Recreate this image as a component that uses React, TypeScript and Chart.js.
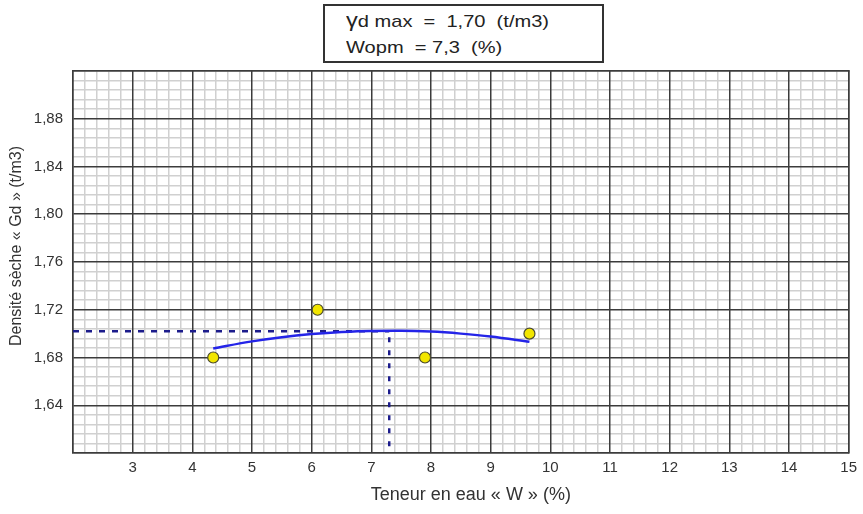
import React, { useEffect, useRef } from 'react';
import { Chart, registerables } from 'chart.js';

Chart.register(...registerables);

// Measured points (water content %, dry density t/m3)
const measuredW = [4.35, 6.1, 7.9, 9.65];
const measuredGd = [1.68, 1.72, 1.68, 1.70];

// Fitted Proctor curve
const curveW = [4.35, 5.0, 5.5, 6.0, 6.5, 7.0, 7.5, 8.0, 8.5, 9.0, 9.65];
const curveGd = [1.6876, 1.6935, 1.697, 1.6996, 1.7014, 1.7023, 1.7024, 1.7017, 1.7, 1.6976, 1.6931];

// Optimum
const wOpm = 7.3;
const gdMax = 1.702;
const optimumLineStartGd = 1.697;

// Axes
const xMin = 2;
const xMax = 15;
const yMin = 1.6;
const yMax = 1.92;
const xMajorStep = 1;
const xMinorStep = 0.2;
const yMajorStep = 0.04;
const yMinorStep = 0.008;

// Texts
const boxLine1 = 'd max  =  1,70  (t/m3)';
const boxLine2 = 'Wopm  = 7,3  (%)';
const xTitle = 'Teneur en eau « W » (%)';
const yTitle = 'Densité sèche « Gd » (t/m3)';

const FONT = '"Liberation Sans", Arial, sans-serif';

const isMultiple = (v: number, step: number) => Math.abs(v / step - Math.round(v / step)) < 1e-6;

const axisTitles = {
  id: 'axisTitles',
  afterDraw(chart: any) {
    const { ctx, chartArea: a } = chart;
    ctx.save();
    ctx.fillStyle = '#333';
    ctx.textAlign = 'center';
    ctx.textBaseline = 'middle';
    ctx.font = `18px ${FONT}`;
    ctx.fillText(xTitle, (a.left + a.right) / 2 + 10, a.bottom + 42);
    ctx.translate(a.left - 56, (a.top + a.bottom) / 2 - 16);
    ctx.rotate(-Math.PI / 2);
    ctx.font = `16px ${FONT}`;
    ctx.fillText(yTitle, 0, 0);
    ctx.restore();
  },
};

export default function App() {
  const canvasRef = useRef<HTMLCanvasElement | null>(null);

  useEffect(() => {
    document.body.style.margin = '0';
    if (!canvasRef.current) return;
    const chart = new Chart(canvasRef.current, {
      type: 'scatter',
      data: {
        datasets: [
          {
            label: 'Mesures',
            data: measuredW.map((w, i) => ({ x: w, y: measuredGd[i] })),
            backgroundColor: '#f2e600',
            borderColor: '#4a4a30',
            borderWidth: 1.2,
            pointRadius: 5.5,
            pointStyle: 'circle',
            showLine: false,
            xAxisID: 'x',
            yAxisID: 'y',
          },
          {
            label: 'Courbe',
            data: curveW.map((w, i) => ({ x: w, y: curveGd[i] })),
            borderColor: '#2424e8',
            borderWidth: 2.5,
            pointRadius: 0,
            showLine: true,
            cubicInterpolationMode: 'monotone',
            xAxisID: 'x',
            yAxisID: 'y',
          },
          {
            label: 'Gd max',
            data: [
              { x: xMin, y: gdMax },
              { x: wOpm, y: gdMax },
            ],
            borderColor: '#1c1c8c',
            borderWidth: 2.5,
            borderDash: [6, 7],
            pointRadius: 0,
            showLine: true,
            xAxisID: 'x',
            yAxisID: 'y',
          },
          {
            label: 'Wopm',
            data: [
              { x: wOpm, y: optimumLineStartGd },
              { x: wOpm, y: yMin },
            ],
            borderColor: '#1c1c8c',
            borderWidth: 2.5,
            borderDash: [5, 8],
            pointRadius: 0,
            showLine: true,
            xAxisID: 'x',
            yAxisID: 'y',
          },
        ],
      },
      options: {
        animation: false,
        responsive: true,
        maintainAspectRatio: false,
        layout: { padding: { top: 71, right: 14, left: 0, bottom: 0 } },
        plugins: {
          legend: { display: false },
          tooltip: { enabled: false },
          title: { display: false },
        },
        scales: {
          x: {
            type: 'linear',
            position: 'bottom',
            min: xMin,
            max: xMax,
            afterFit: (s: any) => {
              s.height = 61;
            },
            ticks: {
              stepSize: xMajorStep,
              autoSkip: false,
              maxRotation: 0,
              padding: 6,
              color: '#333',
              font: { family: FONT, size: 15 },
              callback: (v: any) => (v > xMin ? String(v) : ''),
            },
            grid: { color: '#3c3c3c', lineWidth: 1.5, drawTicks: false },
            border: { display: true, color: '#3c3c3c', width: 1.5 },
          },
          y: {
            type: 'linear',
            position: 'left',
            min: yMin,
            max: yMax,
            afterFit: (s: any) => {
              s.width = 73;
            },
            ticks: {
              stepSize: yMajorStep,
              autoSkip: false,
              padding: 10,
              color: '#333',
              font: { family: FONT, size: 15 },
              callback: (v: any) =>
                v > yMin + 1e-6 && v < yMax - 1e-6 ? Number(v).toFixed(2).replace('.', ',') : '',
            },
            grid: { color: '#3c3c3c', lineWidth: 1.5, drawTicks: false },
            border: { display: true, color: '#3c3c3c', width: 1.5 },
          },
          xMinor: {
            type: 'linear',
            position: 'top',
            min: xMin,
            max: xMax,
            afterFit: (s: any) => {
              s.height = 0;
            },
            ticks: { display: false, stepSize: xMinorStep, autoSkip: false },
            grid: {
              drawTicks: false,
              z: -2,
              lineWidth: 1.5,
              color: (c: any) => (c.tick && isMultiple(c.tick.value, xMajorStep) ? 'rgba(0,0,0,0)' : '#d0d0d0'),
            },
            border: { display: true, color: '#3c3c3c', width: 1.5 },
          },
          yMinor: {
            type: 'linear',
            position: 'right',
            min: yMin,
            max: yMax,
            afterFit: (s: any) => {
              s.width = 0;
            },
            ticks: { display: false, stepSize: yMinorStep, autoSkip: false },
            grid: {
              drawTicks: false,
              z: -2,
              lineWidth: 1.5,
              color: (c: any) => (c.tick && isMultiple(c.tick.value, yMajorStep) ? 'rgba(0,0,0,0)' : '#d0d0d0'),
            },
            border: { display: true, color: '#3c3c3c', width: 1.5 },
          },
        },
      } as any,
      plugins: [axisTitles],
    });
    return () => chart.destroy();
  }, []);

  return (
    <div style={{ position: 'relative', width: 863, height: 514, overflow: 'hidden' }}>
      <canvas ref={canvasRef} style={{ display: 'block' }} />
      <div
        style={{
          position: 'absolute',
          left: 323,
          top: 4,
          width: 277,
          height: 55,
          border: '2px solid #333',
          background: '#fff',
          fontFamily: FONT,
          fontSize: 17,
          color: '#222',
          whiteSpace: 'pre',
        }}
      >
        <div
          style={{
            position: 'absolute',
            left: 21,
            top: 1,
            lineHeight: '27px',
            transform: 'scaleX(1.18)',
            transformOrigin: 'left center',
          }}
        >
          <span style={{ fontSize: 20 }}>γ</span>
          {boxLine1}
        </div>
        <div
          style={{
            position: 'absolute',
            left: 21,
            top: 28,
            lineHeight: '27px',
            transform: 'scaleX(1.18)',
            transformOrigin: 'left center',
          }}
        >
          {boxLine2}
        </div>
      </div>
    </div>
  );
}
